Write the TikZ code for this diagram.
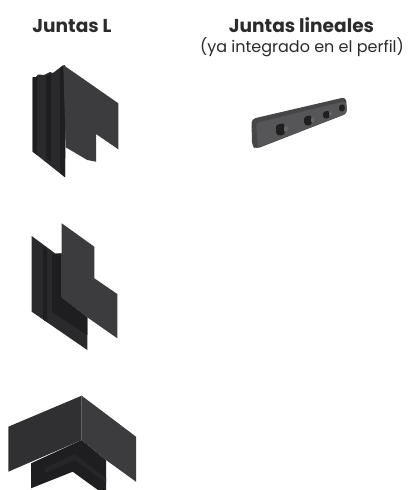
\documentclass[tikz,border=0pt]{standalone}
\usepackage{fontspec}
\setmainfont{Poppins}
\definecolor{panelA}{HTML}{3C3C3E}
\definecolor{panelB}{HTML}{303032}
\definecolor{panelC}{HTML}{2A2A2C}
\definecolor{panelD}{HTML}{1E1E20}
\definecolor{panelE}{HTML}{262628}
\definecolor{titleC}{HTML}{2B2B2B}
\definecolor{barC}{HTML}{565658}
\definecolor{barD}{HTML}{464648}
\tikzset{
  head/.style={font=\fontsize{18.6}{20}\selectfont\bfseries,text=titleC,inner sep=0pt,anchor=base},
  subhead/.style={font=\fontsize{16}{18}\selectfont,text=titleC,inner sep=0pt,anchor=base},
  light/.style={fill=panelA},
  mid/.style={fill=panelB},
  dark/.style={fill=panelC},
  deep/.style={fill=panelD},
  peg/.style={fill=black!88,rounded corners=1.5pt},
  pegtip/.style={fill=black!60,rounded corners=1pt},
}
\begin{document}
\begin{tikzpicture}[x=1pt,y=-1pt]
\useasboundingbox (0,0) rectangle (407,490);
\fill[white] (0,0) rectangle (407,490);
\node[head] (t1) at (72,32) {Juntas L};
\node[head] (t2) at (301.5,32) {Juntas lineales};
\node[subhead] (t3) at (302,52) {(ya integrado en el perfil)};

% first joint: stepped back profile, soft vertical bands, front panel
\fill[dark] (32.7,77.3) -- (36,77) -- (38,74.5) -- (44,75) -- (50,72) -- (53,73) -- (63.3,65) -- (66,100) -- (65,177.3) -- (32.7,151.7) -- cycle;
\fill[deep] (32.7,77.3) -- (37,77) -- (37,155) -- (32.7,151.7) -- cycle;
\fill[deep] (46,76) -- (51,74) -- (51,162) -- (46,158) -- cycle;
\fill[panelD] (60,68) -- (65,65) -- (65,177) -- (60,173) -- cycle;
\fill[light] (63.3,65) -- (118.3,103.3) -- (118.3,149.3) -- (96,134) -- (96,161.7) -- (87.3,160) -- (65.7,147.3) -- cycle;

% second joint
\fill[dark] (31.7,236) -- (55,253.3) -- (61.7,253.3) -- (61.7,297.3) -- (87.3,317.3) -- (87.3,350) -- (31.7,311.7) -- cycle;
\fill[deep] (43,246) -- (47,250) -- (47,322) -- (43,319.5) -- cycle;
\fill[deep] (52,255) -- (61.7,253.3) -- (61.7,297.3) -- (87.3,317.3) -- (87.3,335) -- (52,312) -- cycle;
\fill[light] (61.7,223.3) -- (94.3,246.7) -- (94.3,278.3) -- (117.3,294) -- (117.3,338.3) -- (87.3,317.3) -- (61.7,297.3) -- cycle;

% third joint
\fill[deep] (31,463.3) -- (81.7,440) -- (106,460) -- (106,490) -- (98,490) -- (72.7,471.7) -- (31,488.3) -- cycle;
\fill[panelE] (45,468) -- (75,454) -- (106,478) -- (106,483) -- (75,460) -- (45,473) -- cycle;
\fill[mid] (8.3,426.7) -- (81.7,395.7) -- (81.7,440) -- (8.3,471.7) -- cycle;
\fill[light] (81.7,395.7) -- (136,436.7) -- (136,481.7) -- (106,460) -- (81.7,440) -- cycle;

% linear joint
\fill[barD,rounded corners=4pt] (251.5,119) -- (346,97) -- (347,113.5) -- (256,149) -- (252,146) -- cycle;
\fill[barC,rounded corners=3pt] (256,123) -- (346,101) -- (347,113.5) -- (258,147.5) -- cycle;
\fill[peg] (276,125) -- (284,123) -- (285,134) -- (280,136) -- (276,134) -- cycle;
\fill[pegtip] (284,127) -- (288,126) -- (288,131) -- (284,132) -- cycle;
\fill[peg] (304,117) -- (311,115) -- (312,124) -- (308,126) -- (304,124) -- cycle;
\fill[pegtip] (311,118) -- (314,117) -- (314,122) -- (311,122.5) -- cycle;
\fill[peg] (323,112) -- (329,110.5) -- (330,117) -- (326,119) -- (323,117.5) -- cycle;
\fill[pegtip] (329,112) -- (332,111.5) -- (332,115.5) -- (329,116) -- cycle;
\fill[peg] (339,105.5) -- (344,104) -- (345,110) -- (341,112) -- (339,110.5) -- cycle;
\end{tikzpicture}
\end{document}
